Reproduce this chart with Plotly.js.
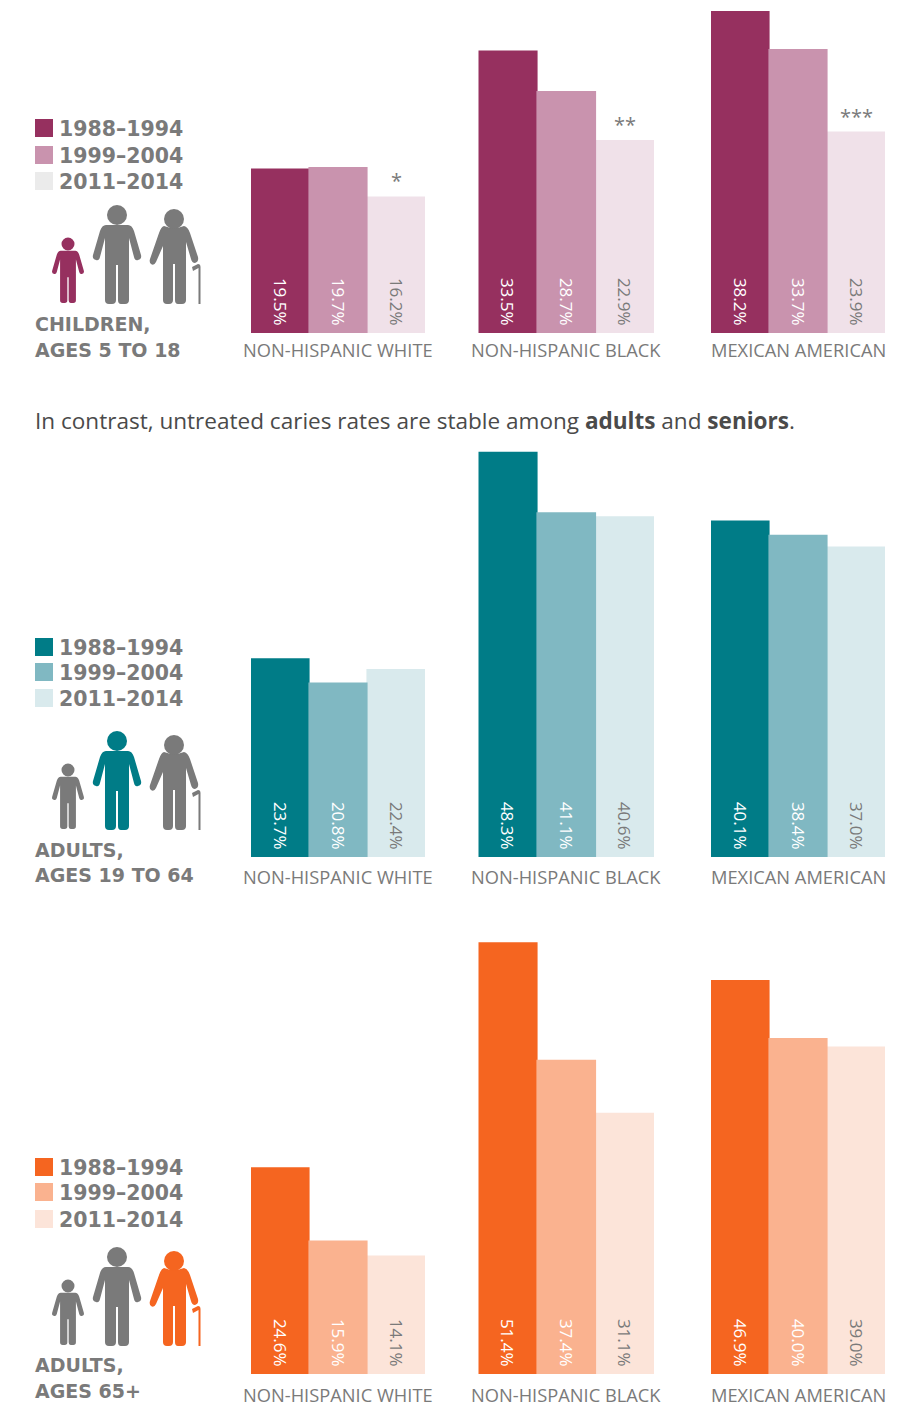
<!DOCTYPE html>
<html>
<head>
<meta charset="utf-8">
<script src="https://cdn.plot.ly/plotly-3.0.1.min.js"></script>
<style>html,body{margin:0;padding:0;background:#fff}#chart{width:910px;height:1408px}</style>
</head>
<body>
<div id="chart"></div>
<script>
// Untreated caries rates by age group, race/ethnicity and survey period
const periods = ['1988–1994', '1999–2004', '2011–2014'];
const groups = ['NON-HISPANIC WHITE', 'NON-HISPANIC BLACK', 'MEXICAN AMERICAN'];

const children1988 = [19.5, 33.5, 38.2];
const children1999 = [19.7, 28.7, 33.7];
const children2011 = [16.2, 22.9, 23.9];
const childrenStars = ['*', '**', '***'];

const adults1988 = [23.7, 48.3, 40.1];
const adults1999 = [20.8, 41.1, 38.4];
const adults2011 = [22.4, 40.6, 37.0];

const seniors1988 = [24.6, 51.4, 46.9];
const seniors1999 = [15.9, 37.4, 40.0];
const seniors2011 = [14.1, 31.1, 39.0];

const W = 910, H = 1408;
const GREY = '#7a7a7a';
const FONT = '"Open Sans", sans-serif';
const WIDE_FONT = '"DejaVu Sans", sans-serif';
const px = x => x / W;
const py = y => 1 - y / H;

const panelEdges = [[251, 425], [478.5, 654], [711, 885]];

const rows = [
  {label: ['CHILDREN,', 'AGES 5 TO 18'], labelY: [324, 350], legendY: [128, 155, 181],
   series: [children1988, children1999, children2011], stars: childrenStars,
   colors: ['#96305f', '#c993ae', '#f0e1e9'], swatches: ['#96305f', '#c993ae', '#ebebeb'],
   top: 0, base: 333, scale: 8.43, groupY: 350, feet: 304, active: 0},
  {label: ['ADULTS,', 'AGES 19 TO 64'], labelY: [850, 875], legendY: [647, 672, 698],
   series: [adults1988, adults1999, adults2011],
   colors: ['#007c87', '#80b8c2', '#d9eaed'], swatches: ['#007c87', '#80b8c2', '#d9eaed'],
   top: 445, base: 857, scale: 8.39, groupY: 876, feet: 830, active: 1},
  {label: ['ADULTS,', 'AGES 65+'], labelY: [1365, 1391], legendY: [1167, 1192, 1219],
   series: [seniors1988, seniors1999, seniors2011],
   colors: ['#f56520', '#fab28f', '#fce4d9'], swatches: ['#f56520', '#fab28f', '#fce4d9'],
   top: 930, base: 1374, scale: 8.40, groupY: 1394, feet: 1346, active: 2}
];

// Pictogram outlines, relative to the centre of the feet
const personPath = [['M',-11,-79],['L',11,-79],['Q',15,-79,17,-73],['L',24,-49],['Q',25,-45,21,-44],['Q',18,-43,17,-47],
  ['L',12,-66],['L',12,-4],['Q',12,0,8,0],['L',4,0],['Q',1,0,1,-4],['L',1,-39],['L',-1,-39],['L',-1,-4],['Q',-1,0,-5,0],
  ['L',-8,0],['Q',-12,0,-12,-4],['L',-12,-66],['L',-17,-47],['Q',-18,-43,-21,-44],['Q',-25,-45,-24,-49],['L',-17,-73],['Q',-15,-79,-11,-79],['Z']];
const elderPath = [['M',-10,-78],['Q',0,-74,10,-78],['Q',14,-77,16,-71],['L',24,-47],['Q',25,-42,21,-41],['Q',18,-41,17,-45],
  ['L',12,-62],['L',12,-4],['Q',12,0,8,0],['L',4,0],['Q',1,0,1,-4],['L',1,-40],['L',-1,-40],['L',-1,-4],['Q',-1,0,-5,0],
  ['L',-7,0],['Q',-11,0,-11,-4],['L',-11,-58],['L',-18,-42],['Q',-20,-38,-23,-40],['Q',-25,-42,-24,-45],['L',-15,-71],['Q',-13,-77,-10,-78],['Z']];
const canePath = [['M',18,-37],['L',24,-40],['Q',26.5,-40,26.5,-37],['L',26.5,0],['L',24.5,0],['L',24.5,-36],['L',19,-33],['Z']];

function placePath(cmds, cx, feet, s) {
  return cmds.map(c => {
    const nums = c.slice(1);
    let out = c[0];
    for (let i = 0; i < nums.length; i += 2) {
      out += (i ? ' ' : '') + px(cx + nums[i] * s).toFixed(5) + ',' + py(feet + nums[i + 1] * s).toFixed(5);
    }
    return out;
  }).join(' ');
}
const pathShape = (d, color) => ({type: 'path', xref: 'paper', yref: 'paper', path: d, fillcolor: color, line: {width: 0}});
const headShape = (cx, cy, r, color) => ({type: 'circle', xref: 'paper', yref: 'paper', x0: px(cx - r), x1: px(cx + r),
  y0: py(cy + r), y1: py(cy - r), fillcolor: color, line: {width: 0}});

const data = [];
const shapes = [];
const annotations = [];
const layout = {
  width: W, height: H, margin: {l: 0, r: 0, t: 0, b: 0}, paper_bgcolor: '#fff', plot_bgcolor: 'rgba(0,0,0,0)',
  barmode: 'overlay', showlegend: false, font: {family: FONT, color: GREY}
};

const textNote = (text, x, y, size, color, family) => ({
  text, xref: 'paper', yref: 'paper', x: px(x), y: py(y), xanchor: 'left', yanchor: 'middle',
  showarrow: false, font: {family: family || FONT, size, color}
});

let axisIndex = 0;
rows.forEach(row => {
  groups.forEach((group, g) => {
    axisIndex += 1;
    const suffix = axisIndex === 1 ? '' : String(axisIndex);
    const [left, right] = panelEdges[g];
    layout['xaxis' + suffix] = {
      domain: [px(left), px(right)], anchor: 'y' + suffix, type: 'category',
      categoryorder: 'array', categoryarray: periods, range: [-0.5, 2.5],
      showgrid: false, zeroline: false, showline: false, ticks: '', showticklabels: false, fixedrange: true
    };
    layout['yaxis' + suffix] = {
      domain: [py(row.base), py(row.top)], anchor: 'x' + suffix,
      range: [0, (row.base - row.top) / row.scale], visible: false, fixedrange: true
    };
    // Group name centred under its three bars
    annotations.push({
      text: group, xref: 'x' + suffix + ' domain', yref: 'paper', x: 0.5, y: py(row.groupY),
      xanchor: 'center', yanchor: 'middle', showarrow: false,
      font: {family: FONT, size: 18.3, color: GREY}
    });
    // The middle period is painted last so it sits over its neighbours
    [0, 2, 1].forEach(p => {
      const v = row.series[p][g];
      data.push({
        type: 'bar', name: periods[p] + ' ' + group, x: [periods[p]], y: [v], width: 1.02,
        xaxis: 'x' + suffix, yaxis: 'y' + suffix,
        marker: {color: row.colors[p], line: {width: 0}},
        text: [v.toFixed(1) + '%\u00A0'], textposition: 'inside', insidetextanchor: 'start', textangle: 90,
        constraintext: 'none', cliponaxis: false,
        insidetextfont: {family: FONT, size: 17, color: p === 2 ? GREY : '#ffffff'}
      });
    });
    if (row.stars) {
      annotations.push({
        text: row.stars[g], xref: 'x' + suffix, yref: 'y' + suffix, x: periods[2], y: row.series[2][g],
        xanchor: 'center', yanchor: 'bottom', showarrow: false,
        font: {family: FONT, size: 20, color: GREY}
      });
    }
  });

  periods.forEach((period, p) => {
    const cy = row.legendY[p];
    shapes.push({type: 'rect', xref: 'paper', yref: 'paper', x0: px(35), x1: px(53), y0: py(cy + 9), y1: py(cy - 9),
      fillcolor: row.swatches[p], line: {width: 0}});
    annotations.push(textNote('<b>' + period + '</b>', 57, cy + 1, 20.5, GREY, WIDE_FONT));
  });
  row.label.forEach((line, i) => annotations.push(textNote('<b>' + line + '</b>', 33, row.labelY[i], 19, GREY, WIDE_FONT)));

  // Child, adult and senior figures, with the group in focus in the row colour
  const tint = i => (i === row.active ? row.colors[0] : GREY);
  shapes.push(pathShape(placePath(personPath, 68, row.feet - 1, 0.66), tint(0)));
  shapes.push(headShape(68, row.feet - 60, 6.5, tint(0)));
  shapes.push(pathShape(placePath(personPath, 117, row.feet, 1), tint(1)));
  shapes.push(headShape(117, row.feet - 89, 10, tint(1)));
  shapes.push(pathShape(placePath(elderPath, 174, row.feet, 1), tint(2)));
  shapes.push(pathShape(placePath(canePath, 174, row.feet, 1), tint(2)));
  shapes.push(headShape(174, row.feet - 85, 10, tint(2)));
});

annotations.push(textNote('In contrast, untreated caries rates are stable among <b>adults</b> and <b>seniors</b>.',
  33, 420, 22.55, '#4a4a4a'));

layout.shapes = shapes;
layout.annotations = annotations;

Plotly.newPlot('chart', data, layout, {displayModeBar: false, responsive: false});
</script>
</body>
</html>
